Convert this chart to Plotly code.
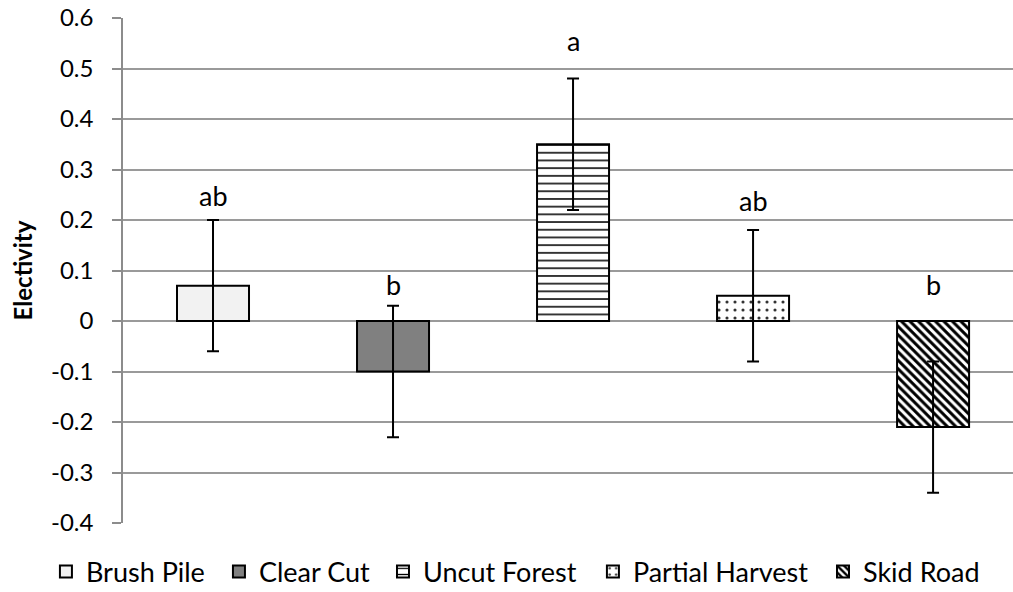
import plotly.graph_objects as go

# Habitat categories and their mean electivity with standard errors
categories = ["Brush Pile", "Clear Cut", "Uncut Forest", "Partial Harvest", "Skid Road"]
electivity = [0.07, -0.10, 0.35, 0.05, -0.21]
std_err = [0.13, 0.13, 0.13, 0.13, 0.13]
# Significance letters and the height at which each one sits
letters = ["ab", "b", "a", "ab", "b"]
letter_y = [0.249, 0.073, 0.556, 0.239, 0.073]

y_ticks = [-0.4, -0.3, -0.2, -0.1, 0, 0.1, 0.2, 0.3, 0.4, 0.5, 0.6]
y_tick_text = ["-0.4", "-0.3", "-0.2", "-0.1", "0", "0.1", "0.2", "0.3", "0.4", "0.5", "0.6"]

FONT = "Lato"

# Fill style per habitat
fills = {
    "Brush Pile": dict(color="#f2f2f2"),
    "Clear Cut": dict(color="#808080"),
    "Uncut Forest": dict(color="white", pattern=dict(shape="-", fgcolor="black", bgcolor="white",
                                                     size=7.7, solidity=0.2, fillmode="replace")),
    "Partial Harvest": dict(color="white", pattern=dict(shape=".", fgcolor="#333333", bgcolor="white",
                                                        size=8, solidity=0.12, fillmode="replace")),
    "Skid Road": dict(color="white", pattern=dict(shape="\\", fgcolor="black", bgcolor="white",
                                                  size=6, solidity=0.5, fillmode="replace")),
}

# Each habitat gets its own legend box so the entries can be spaced evenly
legend_ids = ["legend2", "legend3", "legend4", "legend5", "legend6"]
legend_x = [-0.0866, 0.1078, 0.2921, 0.5280, 0.7865]

fig = go.Figure()
for name, val, err, lid in zip(categories, electivity, std_err, legend_ids):
    marker = dict(line=dict(color="black", width=2), **fills[name])
    fig.add_trace(go.Bar(
        x=[name], y=[val], name=name, width=0.4, legend=lid, showlegend=True,
        marker=marker,
        error_y=dict(type="data", array=[err], color="black", thickness=2, width=6),
    ))

for name, txt, ly in zip(categories, letters, letter_y):
    fig.add_annotation(x=name, y=ly, text=txt, showarrow=False,
                       font=dict(family=FONT, size=27, color="black"),
                       xanchor="center", yanchor="middle")

# Rotated axis title
fig.add_annotation(xref="paper", yref="paper", x=-0.1124, y=0.5, text="<b>Electivity</b>",
                   textangle=-90, showarrow=False, xanchor="center", yanchor="middle",
                   font=dict(family=FONT, size=24, color="black"))

legend_style = dict(orientation="h", yref="container", y=0.034, yanchor="middle", xanchor="left",
                    font=dict(family=FONT, size=27, color="black"), itemwidth=30,
                    bgcolor="rgba(0,0,0,0)")
legends = {lid: dict(x=lx, **legend_style) for lid, lx in zip(legend_ids, legend_x)}

fig.update_layout(
    width=1013, height=592,
    margin=dict(l=123, r=0, t=18, b=69, pad=0, autoexpand=False),
    paper_bgcolor="white", plot_bgcolor="white",
    barmode="overlay", showlegend=True,
    font=dict(family=FONT, size=22, color="black"),
    xaxis=dict(type="category", categoryorder="array", categoryarray=categories,
               range=[-0.5, 4.444], showticklabels=False, showgrid=False,
               zeroline=False, showline=False, ticks=""),
    yaxis=dict(range=[-0.4, 0.6], tickvals=y_ticks, ticktext=y_tick_text,
               showgrid=True, gridcolor="#9a9a9a", gridwidth=1.5,
               zeroline=False, showline=True, linecolor="#8c8c8c", linewidth=1.5,
               ticks="outside", ticklen=9, tickcolor="#8c8c8c", tickwidth=1.5,
               ticklabelstandoff=14, tickfont=dict(family=FONT, size=24, color="black")),
    **legends,
)

fig.write_html("out.html")
